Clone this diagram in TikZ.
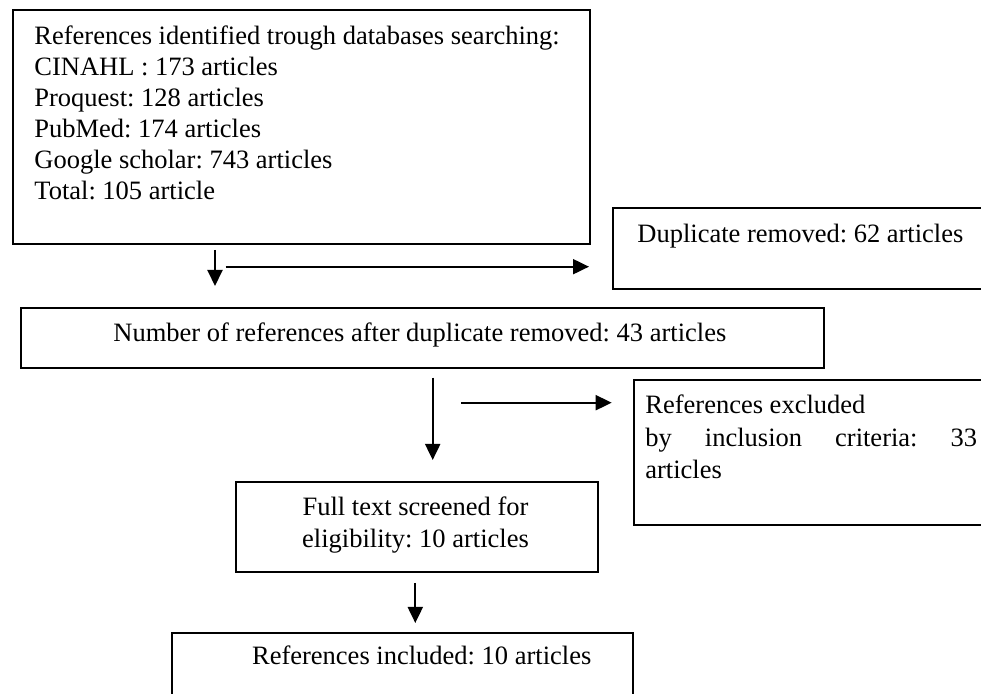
\documentclass[tikz,border=0pt]{standalone}
\usepackage{fontspec}
\setmainfont{Liberation Serif}
\usetikzlibrary{arrows.meta}
\begin{document}
\frenchspacing
\begin{tikzpicture}[x=0.5pt,y=-0.5pt,
  box/.style={draw, line width=1pt, inner sep=0pt, anchor=north west, rectangle},
  txt/.style={inner sep=0pt, anchor=base west, font=\fontsize{13.25pt}{15.5pt}\selectfont\frenchspacing},
  ctxt/.style={txt, anchor=base},
  arr/.style={line width=1pt, -{Triangle[length=8pt,width=7.5pt]}}]
\useasboundingbox (0,0) rectangle (981,694);
\clip (0,0) rectangle (981,694);
% boxes
\node[box, minimum width=288.5pt, minimum height=117pt] (src) at (12,9) {};
\node[box, minimum width=199pt, minimum height=40.5pt] (dup) at (611.7,207) {};
\node[box, minimum width=401.5pt, minimum height=29.85pt] (num) at (20,307) {};
\node[box, minimum width=188.5pt, minimum height=72.5pt] (exc) at (633,379) {};
\node[box, minimum width=180.85pt, minimum height=45pt] (full) at (235,481) {};
\node[box, minimum width=230.5pt, minimum height=40pt] (inc) at (170.7,631.7) {};
% texts
\node[txt] (s1) at (34,45) {References identified trough databases searching:};
\node[txt] (s2) at (34,76) {CINAHL : 173 articles};
\node[txt] (s3) at (34,107) {Proquest: 128 articles};
\node[txt] (s4) at (34,138) {PubMed: 174 articles};
\node[txt] (s5) at (34,169) {Google scholar: 743 articles};
\node[txt] (s6) at (34,200) {Total: 105 article};
\node[txt] (d1) at (637,243) {Duplicate removed: 62 articles};
\node[txt] (n1) at (113,342) {Number of references after duplicate removed: 43 articles};
\node[txt] (e1) at (645,414) {References excluded};
\node[txt] (e2) at (645,447) {\makebox[165.85pt][l]{by\hfill inclusion\hfill criteria:\hfill 33}};
\node[txt] (e3) at (645,479) {articles};
\node[ctxt] (f1) at (415.5,516) {Full text screened for};
\node[ctxt] (f2) at (415.5,548) {eligibility: 10 articles};
\node[txt] (i1) at (251.7,665) {References included: 10 articles};
% connector end points
\coordinate (a1s) at (215,250);   \coordinate (a1e) at (215,286);
\coordinate (h1s) at (225.7,266.7); \coordinate (h1e) at (589,266.7);
\coordinate (a2s) at (432.7,377.7); \coordinate (a2e) at (432.7,460);
\coordinate (h2s) at (461,402.7); \coordinate (h2e) at (611.7,402.7);
\coordinate (a3s) at (415.3,583); \coordinate (a3e) at (415.3,623);
\draw[arr] (a1s) -- (a1e);
\draw[arr] (h1s) -- (h1e);
\draw[arr] (a2s) -- (a2e);
\draw[arr] (h2s) -- (h2e);
\draw[arr] (a3s) -- (a3e);
\end{tikzpicture}
\end{document}
